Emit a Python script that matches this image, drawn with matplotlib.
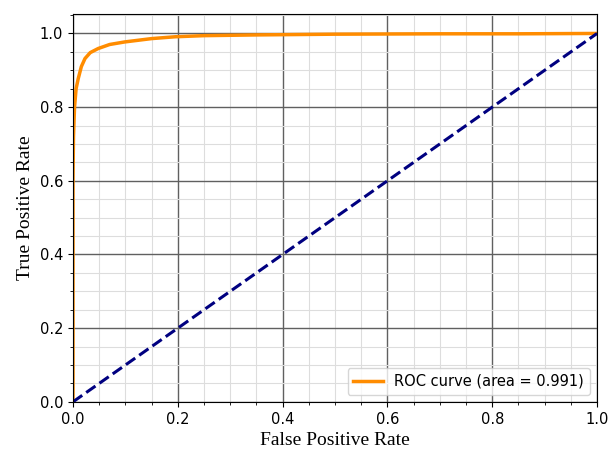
import numpy as np
import matplotlib.pyplot as plt
from matplotlib.ticker import MultipleLocator

# ROC curve points
fpr = [0.0, 0.0, 0.001, 0.003, 0.006, 0.01, 0.016, 0.023, 0.033, 0.048,
       0.07, 0.099, 0.15, 0.195, 0.25, 0.35, 0.5, 0.7, 0.85, 1.0]
tpr = [0.0, 0.6, 0.72, 0.8, 0.85, 0.877, 0.91, 0.932, 0.948, 0.959,
       0.97, 0.977, 0.986, 0.991, 0.994, 0.996, 0.998, 0.999, 0.999, 1.0]
roc_auc = 0.991
chance = [0.0, 1.0]

fig = plt.figure(figsize=(6.08, 4.49), dpi=100)
ax = fig.add_axes([0.12, 0.105, 0.862, 0.864])

ax.plot(fpr, tpr, color='darkorange', lw=2.5,
        label=f'ROC curve (area = {roc_auc:.3f})')
ax.plot(chance, chance, color='navy', lw=2.2, linestyle='--')

ax.set_xlim(0.0, 1.0)
ax.set_ylim(0.0, 1.053)
ax.xaxis.set_minor_locator(MultipleLocator(0.05))
ax.yaxis.set_minor_locator(MultipleLocator(0.05))
ax.grid(which='major', color='#606060', lw=1.0)
ax.grid(which='minor', color='#dddddd', lw=0.8)
ax.set_axisbelow(True)
ax.tick_params(labelsize=10.5)

serif = ['Liberation Serif', 'DejaVu Serif']
ax.set_xlabel('False Positive Rate', fontsize=14, family=serif)
ax.set_ylabel('True Positive Rate', fontsize=14, family=serif)
ax.legend(loc='lower right', fontsize=10.5)

fig.savefig('out.png', dpi=100)
